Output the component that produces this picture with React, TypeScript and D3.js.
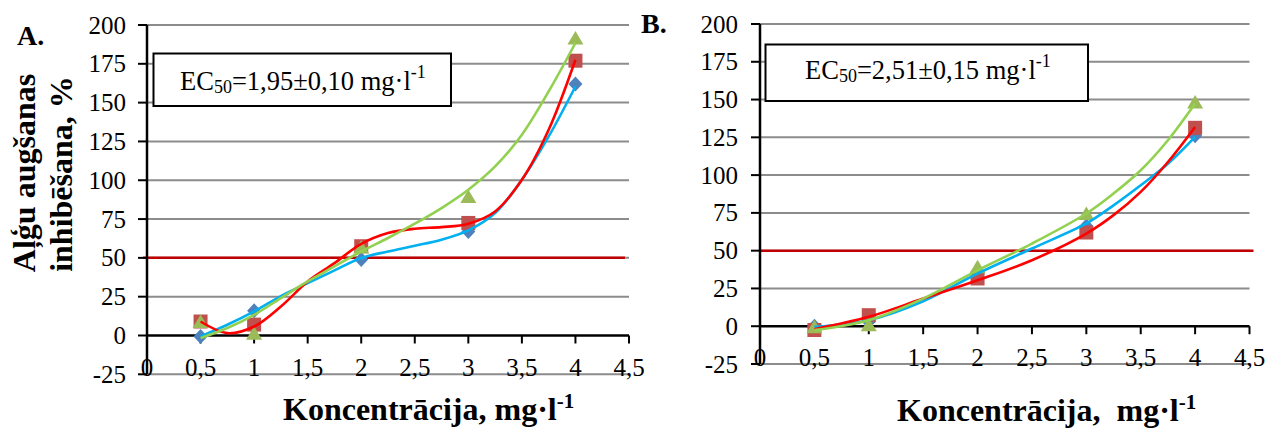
import React from "react";
import * as d3 from "d3";

// ---- data ----
const X_TICKS = [0, 0.5, 1, 1.5, 2, 2.5, 3, 3.5, 4, 4.5];
const X_TICK_LABELS = ["0", "0,5", "1", "1,5", "2", "2,5", "3", "3,5", "4", "4,5"];
const Y_TICKS = [-25, 0, 25, 50, 75, 100, 125, 150, 175, 200];
const Y_TICK_LABELS = ["-25", "0", "25", "50", "75", "100", "125", "150", "175", "200"];
const CONC = [0.5, 1, 2, 3, 4];
const THRESHOLD = 50;

// Panel A measured points
const A_BLUE = [-0.6, 16, 49, 67, 162];
const A_RED = [9, 7, 57.5, 72.5, 177];
const A_GREEN = [9, 1.5, 57, 89.6, 191.6];
// Panel A trend curves
const A_TX = [0.5, 0.75, 1, 1.25, 1.5, 1.75, 2, 2.25, 2.5, 2.75, 3, 3.25, 3.5, 3.75, 4];
const A_BLUE_T = [-0.6, 6.9, 15.5, 25.4, 33.8, 41.9, 49.9, 54.1, 57.8, 61.7, 67.7, 78.9, 100.3, 128.2, 160.4];
const A_RED_T = [9, 1.5, 5.8, 18.7, 34.8, 46.6, 59, 66, 68.8, 69.8, 72, 79.9, 100.3, 132.5, 177.6];
const A_GREEN_T = [-1.7, 4.8, 13.3, 24.1, 34.8, 44.5, 54.1, 62.8, 72, 82.1, 93.9, 108.9, 129.3, 157.2, 188.4];

// Panel B measured points
const B_BLUE = [0, 3, 35, 66.4, 126];
const B_RED = [-2.5, 7.3, 31.6, 62, 131.3];
const B_GREEN = [-0.4, 0.9, 39.3, 74.6, 148.4];
// Panel B trend curves
const B_TX = [0.5, 1, 1.5, 2, 2.5, 3, 3.25, 3.5, 3.75, 4];
const B_BLUE_T = [-0.4, 4, 16.5, 34.9, 51.4, 68, 80, 93.3, 107.5, 125.3];
const B_RED_T = [-2, 6.2, 18.3, 30.4, 43.7, 61.3, 73.5, 88.9, 108.7, 131.9];
const B_GREEN_T = [-2.6, 4, 18.3, 37, 54.7, 74.6, 87.8, 103.2, 123.1, 147.4];

const FONT = "Liberation Serif, DejaVu Serif, serif";
const GRID = "#8c8c8c";
const COL = {
  blueMark: "#4F81BD",
  redMark: "#C0504D",
  greenMark: "#9BBB59",
  blueLine: "#00B0F0",
  redLine: "#FF0000",
  greenLine: "#92D050",
  thr: "#C00000",
};

type PanelProps = {
  letter: string;
  letterX: number;
  letterY: number;
  xRange: [number, number];
  yRange: [number, number];
  yLabelRight: number;
  box: { x: number; y: number; w: number; h: number; tx: number; ty: number };
  ec: string;
  titleX: number;
  titleY: number;
  titleSep: string;
  blue: number[];
  red: number[];
  green: number[];
  tx: number[];
  blueT: number[];
  redT: number[];
  greenT: number[];
  thrExtend: [number, number];
};

function Panel(p: PanelProps) {
  const x = d3.scaleLinear().domain([0, 4.5]).range(p.xRange);
  const y = d3.scaleLinear().domain([-25, 200]).range(p.yRange);
  const line = d3
    .line<[number, number]>()
    .x((d) => x(d[0]))
    .y((d) => y(d[1]))
    .curve(d3.curveCatmullRom.alpha(0.5));
  const pts = (vals: number[]) => p.tx.map((t, i) => [t, vals[i]] as [number, number]);
  const x0 = x(0);
  const x1 = x(4.5);
  const y0 = y(0);

  return (
    <g>
      {Y_TICKS.filter((t) => t !== 0).map((t) => (
        <line key={"g" + t} x1={x0} x2={x1} y1={y(t)} y2={y(t)} stroke={GRID} strokeWidth={2} />
      ))}
      <line
        x1={x0 + p.thrExtend[0]}
        x2={x1 + p.thrExtend[1]}
        y1={y(THRESHOLD)}
        y2={y(THRESHOLD)}
        stroke={COL.thr}
        strokeWidth={2.5}
      />
      <rect x={p.box.x} y={p.box.y} width={p.box.w} height={p.box.h} fill="#fff" stroke="#000" strokeWidth={2} />
      <text x={p.box.tx} y={p.box.ty} fontFamily={FONT} fontSize={26.5} fill="#000">
        EC
        <tspan fontSize={18} dy={3}>50</tspan>
        <tspan dy={-3}>{p.ec} mg·l</tspan>
        <tspan fontSize={18} dy={-12}>-1</tspan>
      </text>
      <line x1={x0} x2={x0} y1={y(200)} y2={y(-25)} stroke="#000" strokeWidth={2.5} />
      <line x1={x0} x2={x1} y1={y0} y2={y0} stroke="#000" strokeWidth={2.5} />
      {Y_TICKS.map((t) => (
        <line key={"yt" + t} x1={x0 - 9} x2={x0} y1={y(t)} y2={y(t)} stroke="#000" strokeWidth={2} />
      ))}
      {X_TICKS.filter((t) => t > 0).map((t) => (
        <line key={"xt" + t} x1={x(t)} x2={x(t)} y1={y0} y2={y0 + 8} stroke="#000" strokeWidth={2} />
      ))}
      {Y_TICKS.map((t, i) => (
        <text
          key={"yl" + t}
          x={p.yLabelRight}
          y={y(t) + 8.5}
          textAnchor="end"
          fontFamily={FONT}
          fontSize={25}
          fill="#000"
        >
          {Y_TICK_LABELS[i]}
        </text>
      ))}
      {X_TICKS.map((t, i) => (
        <text
          key={"xl" + t}
          x={x(t)}
          y={y(-25) + 1.5}
          textAnchor="middle"
          fontFamily={FONT}
          fontSize={25}
          fill="#000"
        >
          {X_TICK_LABELS[i]}
        </text>
      ))}
      {CONC.map((c, i) => {
        const cx = x(c);
        const cy = y(p.blue[i]);
        return (
          <path
            key={"bm" + i}
            d={`M${cx},${cy - 7.5} L${cx + 7},${cy} L${cx},${cy + 7.5} L${cx - 7},${cy} Z`}
            fill={COL.blueMark}
          />
        );
      })}
      {CONC.map((c, i) => (
        <rect key={"rm" + i} x={x(c) - 7} y={y(p.red[i]) - 7} width={14} height={14} fill={COL.redMark} />
      ))}
      {CONC.map((c, i) => {
        const cx = x(c);
        const cy = y(p.green[i]);
        return (
          <path
            key={"gm" + i}
            d={`M${cx},${cy - 7} L${cx + 8},${cy + 6.5} L${cx - 8},${cy + 6.5} Z`}
            fill={COL.greenMark}
          />
        );
      })}
      <path d={line(pts(p.blueT)) || ""} fill="none" stroke={COL.blueLine} strokeWidth={2.6} />
      <path d={line(pts(p.redT)) || ""} fill="none" stroke={COL.redLine} strokeWidth={2.6} />
      <path d={line(pts(p.greenT)) || ""} fill="none" stroke={COL.greenLine} strokeWidth={2.6} />
      <text x={p.letterX} y={p.letterY} fontFamily={FONT} fontSize={28} fontWeight="bold" fill="#000">
        {p.letter}
      </text>
      <text x={p.titleX} y={p.titleY} fontFamily={FONT} fontSize={32} fontWeight="bold" fill="#000" xmlSpace="preserve">
        {"Koncentrācija," + p.titleSep + "mg·l"}
        <tspan fontSize={21} dy={-12}>-1</tspan>
      </text>
    </g>
  );
}

export default function App() {
  return (
    <svg
      width={1267}
      height={428}
      viewBox="0 0 1267 428"
      style={{ position: "absolute", left: 0, top: 0, background: "#fff" }}
    >
      <rect x={0} y={0} width={1267} height={428} fill="#fff" />
      <text
        transform="translate(35,173) rotate(-90)"
        textAnchor="middle"
        fontFamily={FONT}
        fontSize={32}
        fontWeight="bold"
        fill="#000"
      >
        Aļģu augšanas
      </text>
      <text
        transform="translate(71.5,174) rotate(-90)"
        textAnchor="middle"
        fontFamily={FONT}
        fontSize={32}
        fontWeight="bold"
        fill="#000"
      >
        inhibēšana, %
      </text>
      <Panel
        letter="A."
        letterX={17}
        letterY={45}
        xRange={[147, 629]}
        yRange={[374.3, 25]}
        yLabelRight={126}
        box={{ x: 153.5, y: 53.5, w: 297.5, h: 52.5, tx: 180, ty: 90 }}
        ec="=1,95±0,10"
        titleX={283}
        titleY={420}
        titleSep=" "
        blue={A_BLUE}
        red={A_RED}
        green={A_GREEN}
        tx={A_TX}
        blueT={A_BLUE_T}
        redT={A_RED_T}
        greenT={A_GREEN_T}
        thrExtend={[-4, -4]}
      />
      <Panel
        letter="B."
        letterX={641}
        letterY={33}
        xRange={[760, 1249.5]}
        yRange={[364, 24]}
        yLabelRight={738}
        box={{ x: 765.5, y: 44.5, w: 322.5, h: 56.5, tx: 805, ty: 79 }}
        ec="=2,51±0,15"
        titleX={897}
        titleY={421}
        titleSep="  "
        blue={B_BLUE}
        red={B_RED}
        green={B_GREEN}
        tx={B_TX}
        blueT={B_BLUE_T}
        redT={B_RED_T}
        greenT={B_GREEN_T}
        thrExtend={[1, 4]}
      />
    </svg>
  );
}
